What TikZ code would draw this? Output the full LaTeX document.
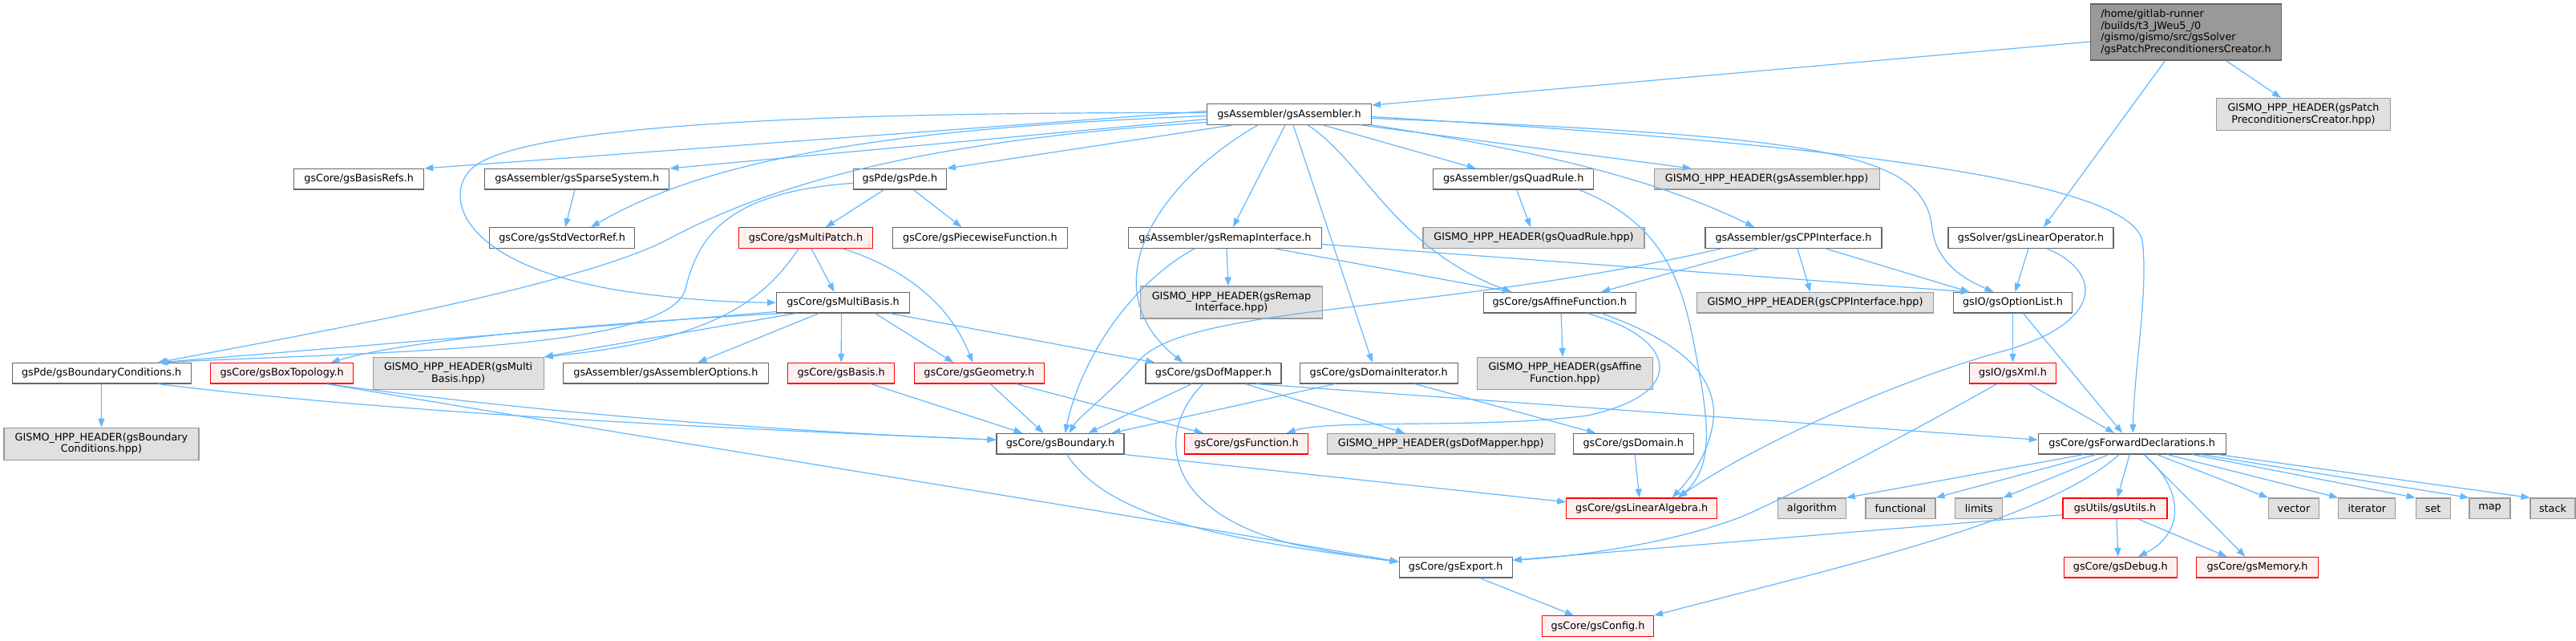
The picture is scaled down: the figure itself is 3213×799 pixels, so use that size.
\documentclass[tikz,border=0pt]{standalone}
\usepackage{fontspec}
\setmainfont{DejaVu Sans}
\usetikzlibrary{arrows.meta}
\definecolor{edgeblue}{RGB}{99,184,255}
\definecolor{nodegray}{RGB}{102,102,102}
\definecolor{extfill}{RGB}{224,224,224}
\definecolor{extdraw}{RGB}{153,153,153}
\definecolor{redfill}{RGB}{255,240,240}
\definecolor{mainfill}{RGB}{153,153,153}
\begin{document}
\begin{tikzpicture}[x=1pt,y=-1pt,
  every node/.style={font=\fontsize{12.8}{14.5}\selectfont, inner sep=0pt, minimum height=25.5pt},
  nb/.style={draw=nodegray, fill=white, line width=1.2pt},
  ext/.style={draw=extdraw, fill=extfill, line width=1.2pt},
  redn/.style={draw=red, fill=redfill, line width=1.2pt},
  mainn/.style={draw=nodegray, fill=mainfill, line width=1.2pt, align=left},
  two/.style={minimum height=40pt, align=center},
  dep/.style={draw=edgeblue, line width=1.2pt, -{Triangle[length=11pt,width=8pt]}},
]
\fill[white] (0,0) rectangle (3213,799);
\useasboundingbox (0,0) rectangle (3213,799);

\node[mainn, minimum width=238pt, minimum height=70pt] (main) at (2726.5,40) {/home/gitlab-runner\\/builds/t3\_JWeu5\_/0\\/gismo/gismo/src/gsSolver\\/gsPatchPreconditionersCreator.h};
\node[ext, two, minimum width=217pt] (phpp) at (2873,142.5) {GISMO\_HPP\_HEADER(gsPatch\\PreconditionersCreator.hpp)};
\node[nb, minimum width=205pt] (asm) at (1608,142.5) {gsAssembler/gsAssembler.h};
\node[nb, minimum width=206pt] (linop) at (2533,296.5) {gsSolver/gsLinearOperator.h};
\node[nb, minimum width=162pt] (basisrefs) at (447.7,223.3) {gsCore/gsBasisRefs.h};
\node[nb, minimum width=230pt] (sparse) at (719.8,223.3) {gsAssembler/gsSparseSystem.h};
\node[nb, minimum width=181pt] (stdvec) at (701.1,296.5) {gsCore/gsStdVectorRef.h};
\node[nb, minimum width=116pt] (pde) at (1122.4,223.3) {gsPde/gsPde.h};
\node[redn, minimum width=167pt] (multipatch) at (1005,296.5) {gsCore/gsMultiPatch.h};
\node[nb, minimum width=218pt] (piecewise) at (1222.4,296.5) {gsCore/gsPiecewiseFunction.h};
\node[nb, minimum width=241pt] (remap) at (1527.9,296.5) {gsAssembler/gsRemapInterface.h};
\node[nb, minimum width=166pt] (multibasis) at (1051.5,377.2) {gsCore/gsMultiBasis.h};
\node[ext, two, minimum width=227pt] (remaphpp) at (1536,377) {GISMO\_HPP\_HEADER(gsRemap\\Interface.hpp)};
\node[nb, minimum width=200pt] (quadrule) at (1887.7,223.3) {gsAssembler/gsQuadRule.h};
\node[ext, minimum width=281pt] (asmhpp) at (2203.6,223.3) {GISMO\_HPP\_HEADER(gsAssembler.hpp)};
\node[ext, minimum width=276pt] (quadhpp) at (1913,296.5) {GISMO\_HPP\_HEADER(gsQuadRule.hpp)};
\node[nb, minimum width=220pt] (cpp) at (2237,296.5) {gsAssembler/gsCPPInterface.h};
\node[nb, minimum width=190pt] (affine) at (1945.2,377.2) {gsCore/gsAffineFunction.h};
\node[ext, minimum width=295pt] (cpphpp) at (2264,377.2) {GISMO\_HPP\_HEADER(gsCPPInterface.hpp)};
\node[nb, minimum width=148pt] (optlist) at (2510.5,377.3) {gsIO/gsOptionList.h};
\node[nb, minimum width=223pt] (bc) at (126.6,465.2) {gsPde/gsBoundaryConditions.h};
\node[redn, minimum width=178pt] (boxtopo) at (351.7,465.2) {gsCore/gsBoxTopology.h};
\node[ext, two, minimum width=213pt] (mbhpp) at (571.6,465.5) {GISMO\_HPP\_HEADER(gsMulti\\Basis.hpp)};
\node[nb, minimum width=256pt] (asmopt) at (830.4,465.2) {gsAssembler/gsAssemblerOptions.h};
\node[ext, two, minimum width=243pt] (bchpp) at (126.5,553.2) {GISMO\_HPP\_HEADER(gsBoundary\\Conditions.hpp)};
\node[redn, minimum width=133pt] (basis) at (1049.2,465.2) {gsCore/gsBasis.h};
\node[redn, minimum width=162pt] (geometry) at (1221.3,465.2) {gsCore/gsGeometry.h};
\node[nb, minimum width=169pt] (dofmapper) at (1513.4,465.2) {gsCore/gsDofMapper.h};
\node[nb, minimum width=197pt] (domit) at (1719.7,465.2) {gsCore/gsDomainIterator.h};
\node[ext, two, minimum width=219pt] (affinehpp) at (1952,465.5) {GISMO\_HPP\_HEADER(gsAffine\\Function.hpp)};
\node[redn, minimum width=108pt] (xml) at (2510.5,465.2) {gsIO/gsXml.h};
\node[nb, minimum width=159pt] (boundary) at (1322.5,553.2) {gsCore/gsBoundary.h};
\node[redn, minimum width=154pt] (function) at (1554.6,553.2) {gsCore/gsFunction.h};
\node[ext, minimum width=284pt] (dofhpp) at (1797.2,553.2) {GISMO\_HPP\_HEADER(gsDofMapper.hpp)};
\node[nb, minimum width=150pt] (domain) at (2037.2,553.2) {gsCore/gsDomain.h};
\node[nb, minimum width=234pt] (fwd) at (2659.2,553.2) {gsCore/gsForwardDeclarations.h};
\node[redn, minimum width=188pt] (linalg) at (2047.7,633.7) {gsCore/gsLinearAlgebra.h};
\node[ext, minimum width=85pt] (algorithm) at (2259.8,633.7) {algorithm};
\node[ext, minimum width=87pt] (functional) at (2370.4,633.7) {functional};
\node[ext, minimum width=59pt] (limits) at (2468.3,633.7) {limits};
\node[redn, minimum width=130pt] (utils) at (2638,633.7) {gsUtils/gsUtils.h};
\node[ext, minimum width=63pt] (vector) at (2861,633.7) {vector};
\node[ext, minimum width=71pt] (iterator) at (2952.3,633.7) {iterator};
\node[ext, minimum width=43pt] (set) at (3034.7,633.7) {set};
\node[ext, minimum width=51pt] (map) at (3105.5,633.7) {map};
\node[ext, minimum width=56pt] (stack) at (3184,633.7) {stack};
\node[nb, minimum width=141pt] (exportn) at (1815.7,707.2) {gsCore/gsExport.h};
\node[redn, minimum width=141pt] (debug) at (2644.8,707.2) {gsCore/gsDebug.h};
\node[redn, minimum width=152pt] (memory) at (2815.5,707.2) {gsCore/gsMemory.h};
\node[redn, minimum width=139pt] (config) at (1993,780.5) {gsCore/gsConfig.h};

% main
\draw[dep] ([yshift=-12pt]main.west) -- ([yshift=-2pt]asm.north east);
\draw[dep] ([xshift=50pt]main.south) -- ([xshift=-28pt]phpp.north);
\draw[dep] ([xshift=-26pt]main.south) -- ([xshift=16pt]linop.north);
% assembler
\draw[dep] ([yshift=4pt]asm.west) -- (basisrefs.north east);
\draw[dep] ([yshift=-6pt]asm.west) -- (sparse.north east);
\draw[dep] ([yshift=-2pt]asm.west) .. controls (1100,160) and (880,200) .. ([xshift=36pt]stdvec.north);
\draw[dep] ([xshift=-70pt]asm.south) -- (pde.north east);
\draw[dep] ([yshift=2pt]asm.west) .. controls (1100,140) and (680,150) .. (595,205) .. controls (550,234) and (560,335) .. (800,366) .. controls (880,376) and (930,377) .. (multibasis.west);
\draw[dep] ([yshift=-10pt]asm.west) .. controls (1150,175) and (960,230) .. (830,300) .. controls (720,355) and (420,410) .. ([xshift=70pt]bc.north);
\draw[dep] ([xshift=-5pt]asm.south) -- ([xshift=10pt]remap.north);
\draw[dep] ([xshift=-39pt]asm.south) .. controls (1440,230) and (1360,360) .. ([xshift=-38pt]dofmapper.north);
\draw[dep] ([xshift=5pt]asm.south) -- ([xshift=-8pt]domit.north);
\draw[dep] ([xshift=23pt]asm.south) .. controls (1700,200) and (1740,310) .. ([xshift=-60pt]affine.north);
\draw[dep] ([xshift=42pt]asm.south) -- ([xshift=-47pt]quadrule.north);
\draw[dep] ([xshift=89pt]asm.south) -- ([xshift=-94pt]asmhpp.north);
\draw[dep] (asm.south east) .. controls (1900,185) and (2060,220) .. ([xshift=-49pt]cpp.north);
\draw[dep] ([yshift=-5pt]asm.east) .. controls (2280,170) and (2400,190) .. (2410,285) .. controls (2415,330) and (2455,350) .. ([xshift=-24pt]optlist.north);
\draw[dep] ([yshift=-3pt]asm.east) .. controls (2300,180) and (2655,225) .. (2672,300) .. controls (2680,360) and (2662,460) .. ([xshift=1pt]fwd.north);
% linear operator
\draw[dep] ([xshift=-3pt]linop.south) -- ([xshift=3pt]optlist.north);
\draw[dep] ([xshift=20pt]linop.south) .. controls (2625,340) and (2625,405) .. (2490,440) .. controls (2350,480) and (2180,560) .. ([xshift=45pt]linalg.north);
% sparse, pde
\draw[dep] ([xshift=-3pt]sparse.south) -- ([xshift=4pt]stdvec.north);
\draw[dep] ([xshift=-20pt]pde.south) -- ([xshift=25pt]multipatch.north);
\draw[dep] ([xshift=17pt]pde.south) -- ([xshift=-23pt]piecewise.north);
\draw[dep] ([yshift=-5pt]pde.west) .. controls (900,240) and (870,300) .. (855,360) .. controls (835,435) and (500,438) .. ([xshift=70pt]bc.north);
% multipatch
\draw[dep] ([xshift=7pt]multipatch.south) -- ([xshift=-11pt]multibasis.north);
\draw[dep] ([xshift=46pt]multipatch.south) .. controls (1130,335) and (1185,380) .. ([xshift=-8pt]geometry.north);
\draw[dep] ([xshift=-9pt]multipatch.south) .. controls (950,380) and (880,425) .. (mbhpp.north east);
% multibasis
\draw[dep] ([yshift=2pt]multibasis.south west) -- ([xshift=72pt]bc.north);
\draw[dep] ([xshift=-74pt]multibasis.south) .. controls (800,400) and (520,420) .. ([xshift=61pt]boxtopo.north);
\draw[dep] ([xshift=-58pt]multibasis.south) .. controls (850,415) and (750,432) .. (mbhpp.north east);
\draw[dep] ([xshift=-30pt]multibasis.south) -- ([xshift=40pt]asmopt.north);
\draw[dep] ([xshift=-2pt]multibasis.south) -- (basis.north);
\draw[dep] ([xshift=40pt]multibasis.south) -- ([xshift=-32pt]geometry.north);
\draw[dep] ([xshift=58pt]multibasis.south) -- ([xshift=-73pt]dofmapper.north);
% remap
\draw[dep] ([xshift=2pt]remap.south) -- ([xshift=-4pt]remaphpp.north);
\draw[dep] ([xshift=62pt]remap.south) -- ([xshift=-60pt]affine.north);
\draw[dep] ([yshift=-8pt]remap.east) -- ([xshift=-54pt]optlist.north);
\draw[dep] ([xshift=-38pt]remap.south) .. controls (1400,360) and (1345,460) .. ([xshift=6pt]boundary.north);
% quadrule
\draw[dep] ([xshift=4pt]quadrule.south) -- ([xshift=-4pt]quadhpp.north);
\draw[dep] ([xshift=82pt]quadrule.south) .. controls (2080,280) and (2100,360) .. (2115,440) .. controls (2130,520) and (2140,580) .. ([xshift=46pt]linalg.north);
% cpp
\draw[dep] ([xshift=-43pt]cpp.south) -- ([xshift=52pt]affine.north);
\draw[dep] ([xshift=5pt]cpp.south) -- ([xshift=-6pt]cpphpp.north);
\draw[dep] ([xshift=40pt]cpp.south) -- ([xshift=-54pt]optlist.north);
\draw[dep] ([xshift=-90pt]cpp.south) .. controls (1800,390) and (1480,380) .. (1420,450) .. controls (1385,490) and (1345,520) .. ([xshift=11pt]boundary.north);
% affine
\draw[dep] ([xshift=2pt]affine.south) -- ([xshift=-3pt]affinehpp.north);
\draw[dep] ([xshift=34pt]affine.south) .. controls (2090,420) and (2110,490) .. (1980,518) .. controls (1850,535) and (1660,522) .. ([xshift=50pt]function.north);
\draw[dep] ([xshift=52pt]affine.south) .. controls (2110,430) and (2150,480) .. (2134,540) .. controls (2125,575) and (2105,600) .. ([xshift=38pt]linalg.north);
% option list, xml
\draw[dep] (optlist.south) -- (xml.north);
\draw[dep] ([xshift=13pt]optlist.south) -- ([xshift=-12pt]fwd.north);
\draw[dep] ([xshift=20pt]xml.south) -- ([xshift=-22pt]fwd.north);
\draw[dep] ([xshift=-20pt]xml.south) .. controls (2400,530) and (2250,610) .. (2175,643) .. controls (2080,680) and (1950,695) .. ([yshift=9pt]exportn.east);
% boundary conditions, box topology
\draw[dep] (bc.south) -- (bchpp.north);
\draw[dep] ([xshift=70pt]bc.south) .. controls (450,510) and (800,530) .. ([yshift=5pt]boundary.west);
\draw[dep] ([xshift=56pt]boxtopo.south) .. controls (600,505) and (900,535) .. ([yshift=5pt]boundary.west);
\draw[dep] ([xshift=56pt]boxtopo.south) .. controls (800,545) and (1400,640) .. ([yshift=7pt]exportn.west);
% basis, geometry, dofmapper, domain iterator
\draw[dep] ([xshift=37pt]basis.south) -- ([xshift=-47pt]boundary.north);
\draw[dep] ([xshift=14pt]geometry.south) -- ([xshift=-21pt]boundary.north);
\draw[dep] ([xshift=46pt]geometry.south) -- ([xshift=-54pt]function.north);
\draw[dep] ([xshift=-27pt]dofmapper.south) -- ([xshift=35pt]boundary.north);
\draw[dep] ([xshift=-13pt]dofmapper.south) .. controls (1440,540) and (1450,640) .. (1620,680) .. controls (1680,692) and (1720,697) .. ([yshift=7pt]exportn.west);
\draw[dep] ([xshift=40pt]dofmapper.south) -- ([xshift=-45pt]dofhpp.north);
\draw[dep] ([xshift=53pt]dofmapper.south) -- ([yshift=5pt]fwd.west);
\draw[dep] ([xshift=-55pt]domit.south) -- ([xshift=64pt]boundary.north);
\draw[dep] ([xshift=45pt]domit.south) -- ([xshift=-47pt]domain.north);
\draw[dep] ([xshift=2pt]domain.south) -- ([xshift=-3pt]linalg.north);
% boundary
\draw[dep] ([xshift=8pt]boundary.south) .. controls (1380,640) and (1500,670) .. ([yshift=7pt]exportn.west);
\draw[dep] (boundary.south east) -- ([yshift=8pt]linalg.west);
% export
\draw[dep] ([xshift=30pt]exportn.south) -- ([xshift=-30pt]config.north);
% forward declarations
\draw[dep] ([xshift=-60pt]fwd.south) -- (algorithm.north east);
\draw[dep] ([xshift=-45pt]fwd.south) -- (functional.north east);
\draw[dep] ([xshift=-29pt]fwd.south) -- (limits.north east);
\draw[dep] ([xshift=-16pt]fwd.south) .. controls (2550,650) and (2300,705) .. (config.north east);
\draw[dep] ([xshift=-3pt]fwd.south) -- ([xshift=3pt]utils.north);
\draw[dep] ([xshift=15pt]fwd.south) .. controls (2725,610) and (2725,665) .. ([xshift=22pt]debug.north);
\draw[dep] ([xshift=15pt]fwd.south) -- ([xshift=-15pt]memory.north);
\draw[dep] ([xshift=31pt]fwd.south) -- (vector.north west);
\draw[dep] ([xshift=44pt]fwd.south) -- (iterator.north west);
\draw[dep] ([xshift=75pt]fwd.south) -- (set.north west);
\draw[dep] ([xshift=86pt]fwd.south) -- (map.north west);
\draw[dep] ([xshift=107pt]fwd.south) -- (stack.north west);
% utils
\draw[dep] ([yshift=-8pt]utils.west) -- ([yshift=9pt]exportn.east);
\draw[dep] ([xshift=2pt]utils.south) -- ([xshift=-3pt]debug.north);
\draw[dep] ([xshift=29pt]utils.south) -- ([xshift=-38pt]memory.north);
\end{tikzpicture}
\end{document}
